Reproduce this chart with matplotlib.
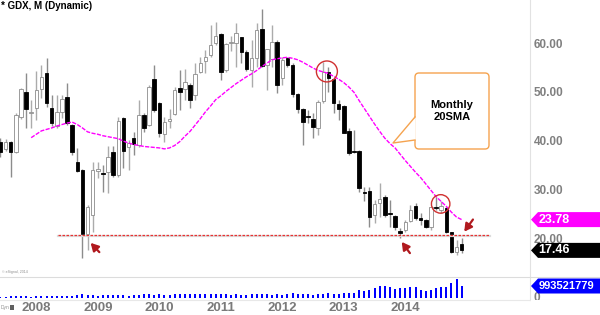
import numpy as np
import matplotlib
matplotlib.use('Agg')
import matplotlib.pyplot as plt
from matplotlib.patches import Ellipse, FancyBboxPatch, Polygon, Rectangle

plt.rcParams['font.family'] = ['Liberation Sans', 'DejaVu Sans']

# GDX monthly candles, Jun 2007 .. Dec 2014 (month index 0 = Jan 2008)
months = np.arange(-7, 84)
opens = [39.7, 38.3, 39.7, 37.7, 44.9, 50.0, 45.7,
         46.6, 50.6, 53.9, 46.6, 42.9, 45.9, 49.0, 43.2, 35.7, 34.0, 20.8, 24.7,
         33.8, 33.4, 33.5, 37.6, 32.9, 44.6, 38.7, 40.5, 39.1, 45.3, 43.2, 52.6,
         47.7, 41.3, 44.0, 45.5, 50.8, 50.6, 51.4, 49.3, 54.1, 56.3, 57.6, 60.0,
         61.9, 54.5, 60.0, 60.0, 61.3, 58.2, 54.5, 57.0, 62.9, 55.5, 56.8, 60.2,
         52.9, 57.0, 55.5, 49.6, 46.5, 44.9, 44.4, 42.6, 48.1, 54.1, 52.6, 47.5,
         47.1, 42.0, 37.9, 37.9, 29.5, 29.7, 24.7, 27.2, 28.4, 25.1, 24.5, 21.4,
         21.6, 23.5, 26.6, 24.1, 23.7, 22.3, 26.4, 25.7, 26.2, 21.2, 17.1, 18.8]
highs = [40.5, 40.4, 39.9, 45.7, 50.8, 53.8, 48.3,
         54.2, 55.5, 56.9, 49.4, 49.4, 49.4, 51.8, 43.4, 38.4, 34.2, 26.8, 35.7,
         35.7, 35.0, 38.8, 38.8, 44.9, 44.9, 40.1, 41.8, 48.3, 45.6, 51.4, 55.5,
         48.0, 44.9, 46.5, 51.0, 54.5, 54.8, 51.8, 55.9, 57.2, 58.6, 63.7, 64.4,
         62.0, 60.0, 61.5, 64.1, 61.3, 58.6, 60.7, 64.1, 67.0, 58.9, 63.7, 60.7,
         57.2, 57.2, 55.9, 49.7, 46.6, 46.3, 45.6, 48.3, 56.2, 55.2, 52.8, 48.3,
         47.3, 42.5, 42.2, 38.1, 30.5, 30.5, 27.8, 31.2, 28.8, 27.8, 24.7, 22.0,
         23.7, 26.8, 27.1, 25.1, 24.0, 26.4, 28.5, 27.5, 26.4, 21.3, 19.6, 19.9]
lows = [36.6, 37.9, 32.5, 37.5, 44.5, 42.6, 42.6,
        44.2, 48.7, 47.0, 42.9, 42.6, 44.6, 43.2, 37.0, 33.6, 15.9, 17.5, 21.3,
        32.3, 29.5, 29.2, 32.6, 32.6, 34.3, 34.0, 37.0, 38.7, 41.8, 42.9, 45.9,
        40.8, 39.8, 42.5, 45.3, 46.3, 48.3, 46.6, 48.3, 53.8, 53.8, 57.2, 59.6,
        52.4, 54.0, 58.5, 55.2, 55.9, 54.2, 51.1, 55.2, 55.2, 50.4, 55.2, 49.7,
        51.4, 55.2, 49.0, 45.6, 39.1, 43.6, 40.5, 41.1, 47.7, 50.0, 45.6, 44.2,
        41.5, 37.0, 37.4, 29.5, 27.5, 22.3, 23.0, 24.4, 24.4, 22.3, 21.6, 20.1,
        21.3, 23.3, 23.7, 22.7, 22.0, 21.6, 25.7, 25.1, 21.0, 16.9, 16.5, 16.9]
closes = [37.7, 39.7, 37.7, 45.3, 50.6, 46.5, 45.9,
          50.4, 53.1, 47.7, 43.6, 45.9, 48.5, 43.6, 37.7, 33.8, 20.8, 26.4, 34.0,
          34.2, 33.2, 36.7, 32.9, 44.0, 37.9, 39.6, 39.4, 45.3, 42.5, 51.1, 46.3,
          41.5, 43.9, 44.4, 50.4, 50.0, 52.0, 48.3, 53.7, 55.9, 57.2, 59.6, 61.5,
          54.1, 59.8, 60.3, 62.1, 58.2, 54.7, 57.0, 62.7, 55.3, 58.8, 60.2, 51.4,
          56.6, 55.5, 49.6, 46.5, 43.8, 44.8, 42.8, 47.9, 54.1, 52.9, 47.7, 46.5,
          41.6, 37.5, 37.7, 30.3, 29.2, 24.3, 27.0, 28.0, 24.7, 24.9, 22.3, 21.0,
          23.3, 25.7, 24.1, 23.7, 22.3, 26.4, 26.2, 26.6, 21.2, 17.1, 18.2, 17.46]
# volume in millions of shares
volume = [100, 110, 160, 140, 130, 140, 120,
          150, 160, 170, 140, 130, 150, 160, 190, 250, 300, 230, 220,
          200, 230, 250, 230, 270, 220, 200, 220, 270, 290, 320, 280,
          300, 280, 270, 330, 360, 330, 310, 360, 340, 330, 350, 300,
          320, 290, 260, 300, 270, 260, 290, 370, 350, 300, 280, 290,
          280, 300, 380, 300, 330, 290, 260, 310, 340, 380, 300, 320,
          380, 420, 410, 660, 580, 660, 830, 990, 990, 910, 750, 830,
          830, 910, 910, 660, 580, 660, 830, 910, 910, 1240, 1570, 993.521779]

# 20 month simple moving average as drawn (Dec 2007 .. Dec 2014)
sma_months = np.arange(-1, 84)
sma = [40.6,
       41.3, 42.0, 42.3, 42.6, 43.0, 43.3, 43.6, 43.8, 43.3, 42.6, 41.8, 41.5,
       41.3, 41.0, 40.8, 40.6, 40.4, 39.9, 39.5, 39.2, 39.0, 38.8, 38.7, 38.6,
       38.5, 38.3, 38.5, 39.0, 39.8, 40.9, 41.9, 43.2, 44.5, 45.9, 47.1, 48.4,
       49.2, 50.1, 50.9, 51.7, 52.4, 53.1, 53.7, 54.4, 55.2, 55.9, 56.6, 56.8,
       57.0, 57.1, 56.9, 56.6, 56.1, 55.5, 54.9, 54.4, 54.1, 53.8, 53.2, 52.6,
       51.9, 51.0, 49.9, 48.2, 46.6, 45.0, 43.4, 41.9, 40.5, 39.4, 38.5, 37.2,
       35.9, 34.7, 33.5, 32.4, 31.1, 29.8, 28.5, 27.5, 26.5, 25.3, 24.3, 23.78]

year_ticks = [0, 12, 24, 36, 48, 60, 72]
year_labels = ['2008', '2009', '2010', '2011', '2012', '2013', '2014']
price_ticks = [20, 30, 40, 50, 60]
support = 20.7

W, H = 600, 315
fig = plt.figure(figsize=(6, 3.15), dpi=100)
ax = fig.add_axes([0, 1 - 276 / H, 530 / W, 276 / H])
vax = fig.add_axes([0, 1 - 299 / H, 530 / W, 22 / H])
ov = fig.add_axes([0, 0, 1, 1], zorder=10)
ov.set_xlim(0, W)
ov.set_ylim(H, 0)
ov.set_facecolor('none')
ov.axis('off')

xlim = (-36.3 / 5.125, (530 - 36.3) / 5.125)

# candles
o = np.array(opens); c = np.array(closes)
up = c >= o
ax.vlines(months, lows, highs, colors=np.where(up, '#ababab', '#8c8c8c'), lw=1, zorder=1)
ax.bar(months, np.maximum(np.abs(c - o), 0.25), bottom=np.minimum(o, c), width=0.68,
       color=np.where(up, 'white', 'black'), edgecolor=np.where(up, '#8c8c8c', 'black'),
       lw=0.6, zorder=2)
ax.plot(sma_months, sma, color='#ff00ff', lw=1, ls=(0, (3, 1)), zorder=3)

# support line with shadow
ax.plot([4.3, 88.5], [support - 0.35, support - 0.35], color='#dcdcdc', lw=1.6, zorder=2)
ax.plot([4.3, 88.5], [support, support], color='#e83232', lw=0.9, ls=(0, (2, 1.2)), zorder=3)

ax.set_xlim(*xlim)
ax.set_ylim(12.2, 68.87)
ax.set_xticks([])
ax.yaxis.tick_right()
ax.set_yticks(price_ticks)
ax.set_yticklabels(['%.2f' % p for p in price_ticks])
ax.tick_params(axis='y', length=0, pad=2.5, labelsize=8.5, labelcolor='#808080')
for lab in ax.get_yticklabels():
    lab.set_fontweight('bold')
for s in ax.spines.values():
    s.set_visible(False)

# circles and arrows
ax.add_patch(Ellipse((56.7, 54.2), 4.1, 4.3, fill=False, ec='#d03030', lw=1, zorder=4))
ax.add_patch(Ellipse((78.9, 27.0), 3.6, 3.8, fill=False, ec='#d03030', lw=1, zorder=4))
arrow = dict(arrowstyle='-|>,head_width=0.25,head_length=0.45', color='#b0191e', lw=1.6,
             shrinkA=0, shrinkB=0)
ax.annotate('', xy=(10.6, 19.0), xytext=(12.3, 17.1), arrowprops=arrow)
ax.annotate('', xy=(71.3, 19.2), xytext=(72.9, 16.9), arrowprops=arrow)
ax.annotate('', xy=(83.5, 21.3), xytext=(85.2, 23.8), arrowprops=arrow)

# volume panel
vax.bar(months, volume, width=0.4, color='#0000ff')
vax.set_xlim(*xlim)
vax.set_ylim(-83, 1740)
vax.set_yticks([])
vax.set_xticks(year_ticks)
vax.set_xticklabels(year_labels)
vax.tick_params(axis='x', length=0, pad=2, labelsize=9.5, labelcolor='#7a7a7a')
for lab in vax.get_xticklabels():
    lab.set_fontweight('bold')
for s in vax.spines.values():
    s.set_visible(False)

# frame lines
ov.plot([530, 530], [0, 300], color='#e2e2e2', lw=0.8)
ov.plot([0, W], [276.5, 276.5], color='#dcdcdc', lw=0.8)
ov.plot([0, W], [299.5, 299.5], color='#e8e8e8', lw=0.8)

# callout
ov.add_patch(FancyBboxPatch((415, 73), 74, 76, boxstyle='round,pad=0,rounding_size=4',
                            ec='#f5a34f', fc='white', lw=1))
ov.add_patch(Polygon([(415.8, 117), (393, 143), (415.8, 140)], fc='white', ec='none', zorder=2))
ov.plot([415, 393, 415], [117, 143, 140], color='#f5a34f', lw=1, zorder=3)
ov.text(452, 111, 'Monthly\n20SMA', ha='center', va='center', fontsize=8, weight='bold',
        linespacing=1.25)


def ypx(axes, v):
    return H - axes.transData.transform((0, v))[1]


def tag(yc, color, text, size=9):
    ov.add_patch(Polygon([(531, yc), (538, yc - 7.5), (W, yc - 7.5), (W, yc + 7.5), (538, yc + 7.5)],
                         fc=color, ec='none', clip_on=False, zorder=5))
    ov.text(538.5, yc, text, color='white', weight='bold', fontsize=size, va='center', ha='left',
            zorder=6)


tag(ypx(ax, sma[-1]), '#ff00ff', '%.2f' % sma[-1])
tag(ypx(ax, closes[-1]), 'black', '%.2f' % closes[-1])
tag(ypx(vax, volume[-1]), '#0000ff', '%d' % round(volume[-1] * 1e6), size=8)
ov.text(533, 298, '0', color='#808080', weight='bold', fontsize=8.5, va='center', zorder=3)
ov.add_patch(Rectangle((531, 300), 69, 15, fc='white', ec='none', zorder=4))

ov.text(1, 6, '* GDX, M (Dynamic)', fontsize=7, weight='bold', va='center')
ov.text(2, 272, '\u00a9 eSignal, 2014', fontsize=2.6, color='#909090', va='center')
ov.text(1, 308, 'Dyn', fontsize=3.5, color='#909090', va='center')
ov.add_patch(Rectangle((10, 305), 4, 5, fc='#606060', ec='none'))

fig.savefig('out.png', dpi=100)
